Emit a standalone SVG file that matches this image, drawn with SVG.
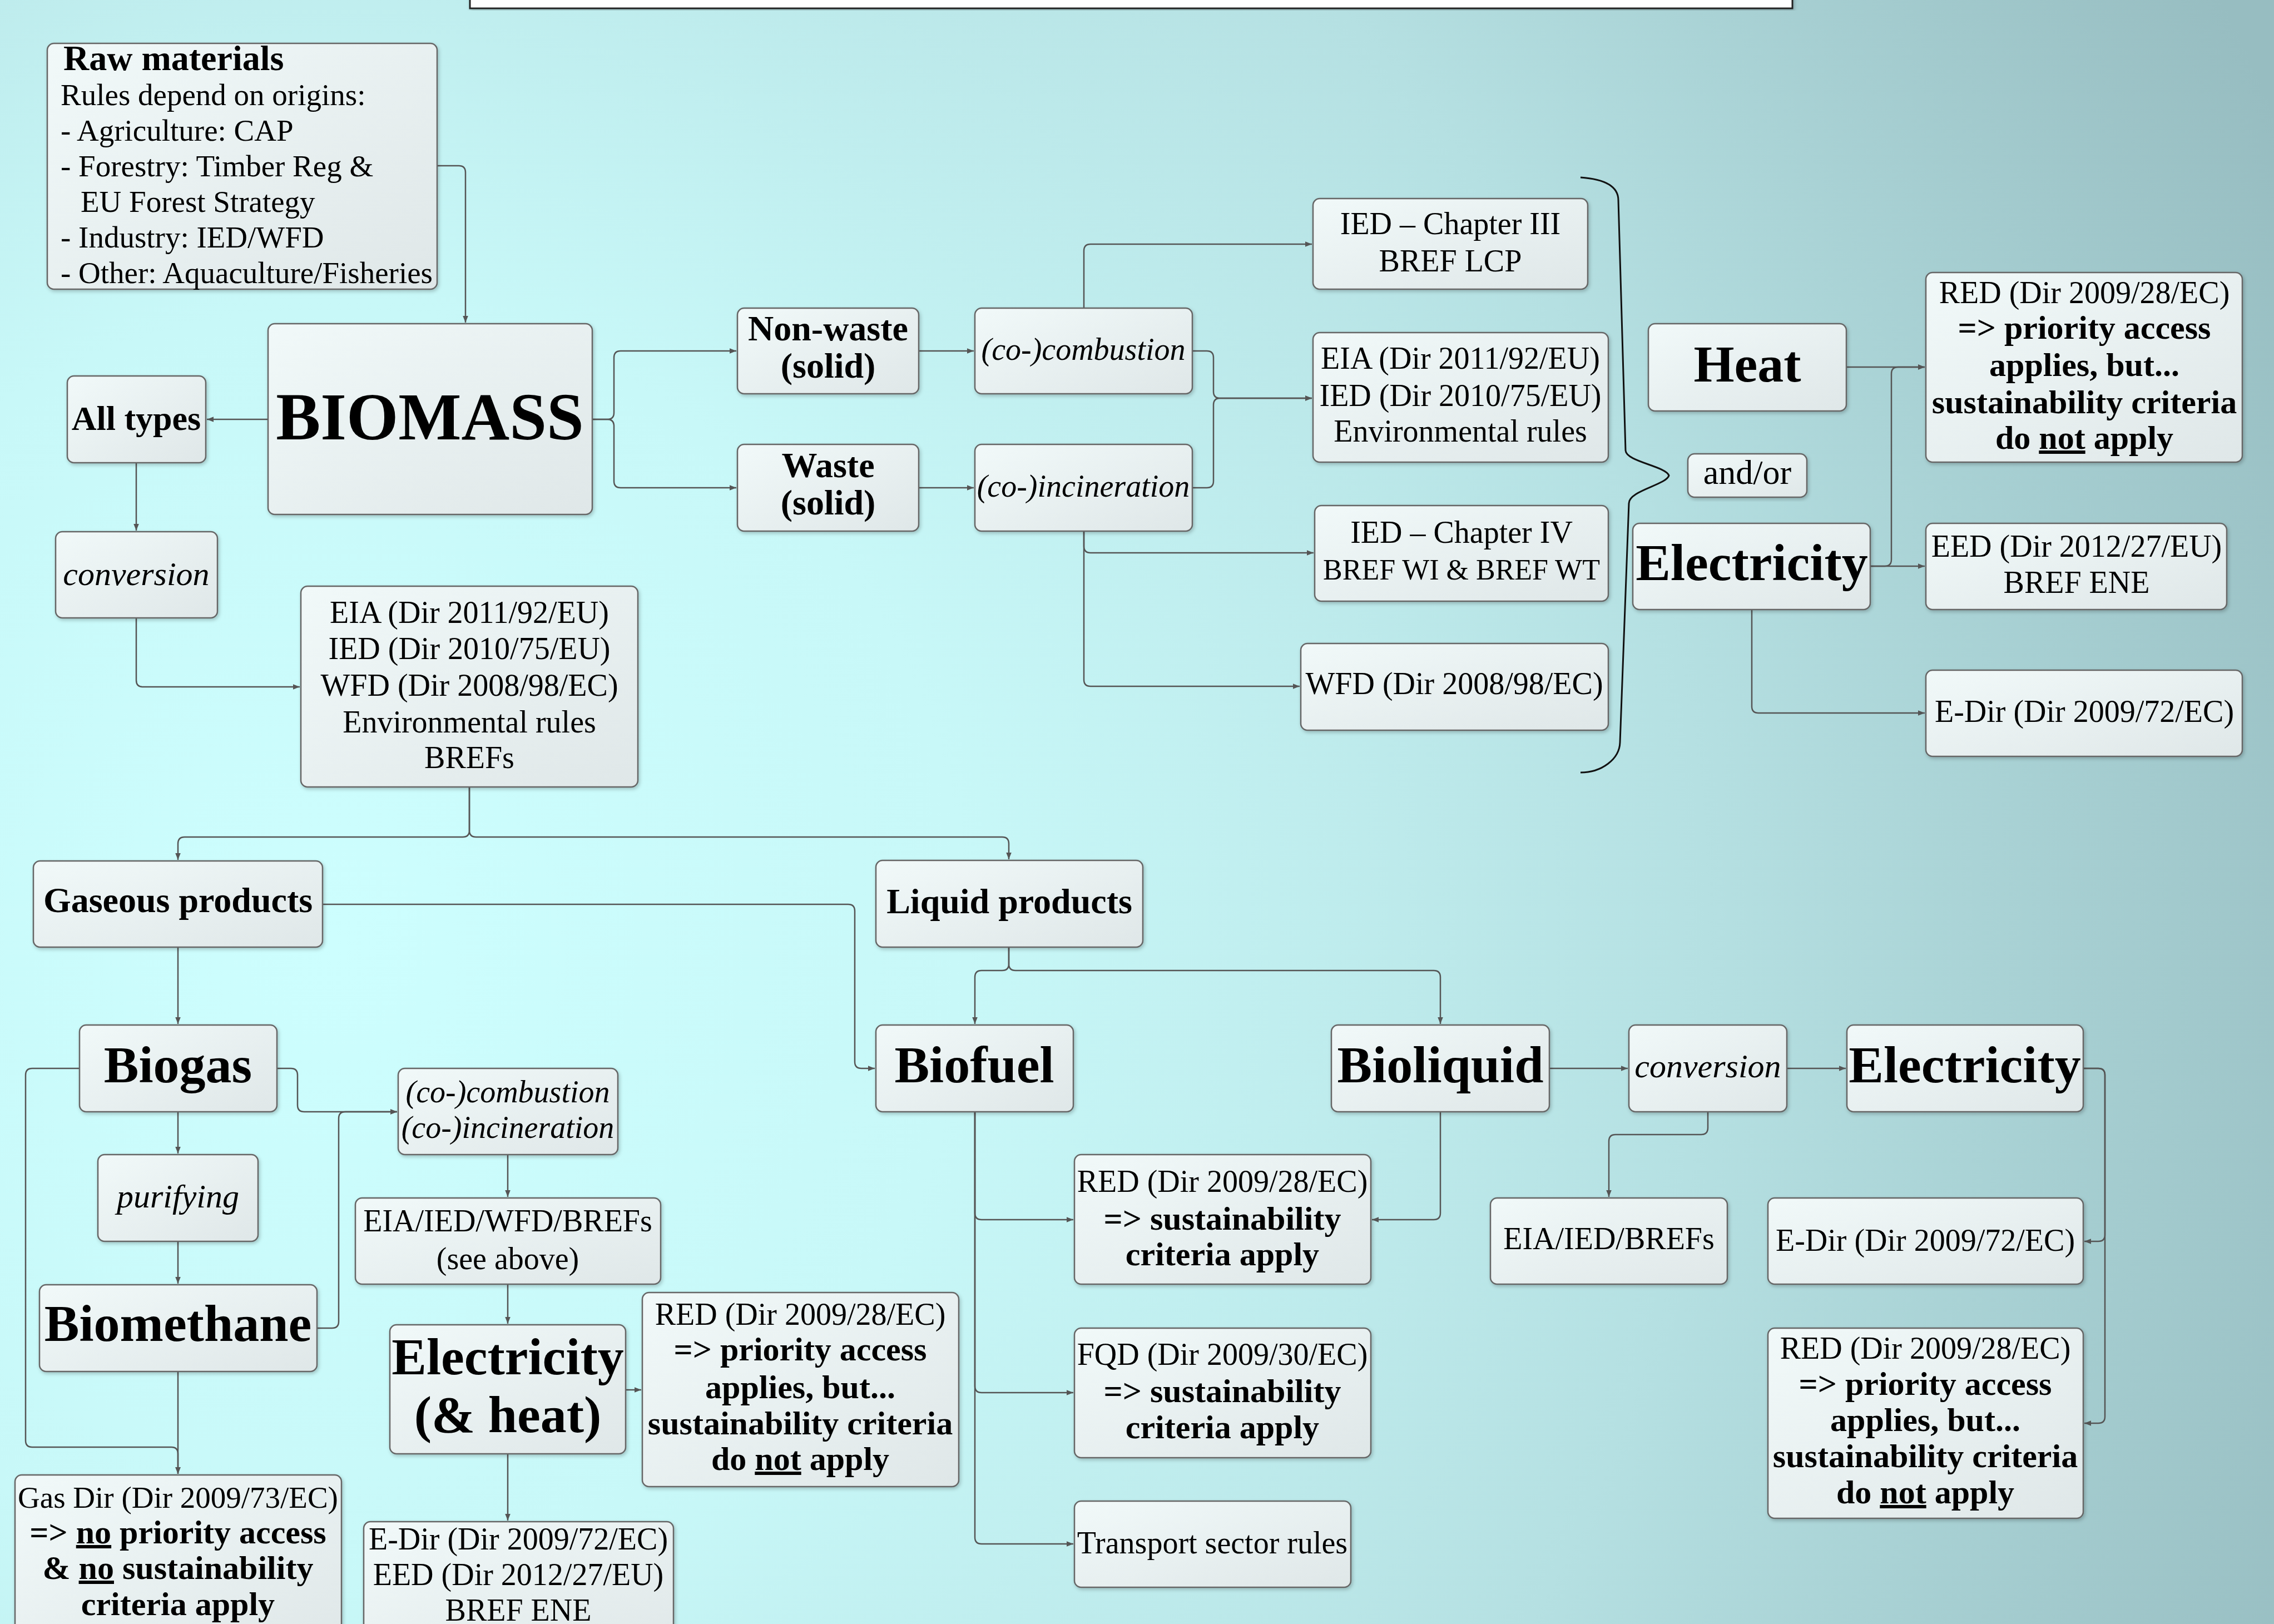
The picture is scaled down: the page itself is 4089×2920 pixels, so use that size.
<svg xmlns="http://www.w3.org/2000/svg" width="4089" height="2920" viewBox="0 0 4089 2920">
<defs>
<radialGradient id="bg" gradientUnits="userSpaceOnUse" cx="600" cy="1700" r="3800">
<stop offset="0" stop-color="#cdfefe"/>
<stop offset="0.3" stop-color="#c8f8f8"/>
<stop offset="0.65" stop-color="#b5e0e2"/>
<stop offset="1" stop-color="#97bdc1"/>
</radialGradient>
<linearGradient id="nf" x1="0" y1="0" x2="1" y2="1">
<stop offset="0" stop-color="#f1f9f9"/>
<stop offset="1" stop-color="#dfe7e8"/>
</linearGradient>
<filter id="sh" x="-5%" y="-5%" width="110%" height="115%">
<feDropShadow dx="2" dy="3" stdDeviation="3" flood-color="#000" flood-opacity="0.22"/>
</filter>
<marker id="arr" viewBox="0 0 10 10" refX="10" refY="5" markerWidth="14" markerHeight="12" markerUnits="userSpaceOnUse" orient="auto">
<path d="M0,1 L10,5 L0,9 z" fill="#555"/>
</marker>
<style>
.box{fill:url(#nf);stroke:#666;stroke-width:2.5;filter:url(#sh)}
text{font-family:"Liberation Serif","Times New Roman",serif;fill:#000}
.m{text-anchor:middle}
.r{font-size:56px}
.rs{font-size:55px}
.b{font-size:60px;font-weight:bold}
.h{font-size:64px;font-weight:bold}
.big{font-size:94px;font-weight:bold}
.i{font-size:56px;font-style:italic}
.i2{font-size:60px;font-style:italic}
.u{text-decoration:underline}
.c{stroke:#555;stroke-width:2.5;fill:none;marker-end:url(#arr)}
.brace{stroke:#111;stroke-width:3;fill:none}
</style>
</defs>
<rect x="0" y="0" width="4089" height="2920" fill="url(#bg)"/>
<g id="banner">
<rect x="845" y="-20" width="2378" height="35" fill="#fff" stroke="#222" stroke-width="3" filter="url(#sh)"/>
</g>

<g id="connectors">
<path class="c" d="M786,298 H825 Q837,298 837,310 V580"/>
<path class="c" d="M482,754 H372"/>
<path class="c" d="M245,832 V954"/>
<path class="c" d="M245,1111 V1223 Q245,1235 257,1235 H539"/>
<path class="c" d="M1065,754 H1092 Q1104,754 1104,742 V643 Q1104,631 1116,631 H1324"/>
<path class="c" d="M1065,754 H1092 Q1104,754 1104,766 V865 Q1104,877 1116,877 H1324"/>
<path class="c" d="M1652,631 H1751"/>
<path class="c" d="M1652,877 H1751"/>
<path class="c" d="M1949,554 V451 Q1949,439 1961,439 H2359"/>
<path class="c" d="M2144,631 H2170 Q2182,631 2182,643 V704 Q2182,716 2194,716 H2359"/>
<path class="c" d="M2144,877 H2170 Q2182,877 2182,865 V728 Q2182,716 2194,716 H2359"/>
<path class="c" d="M1949,955 V982 Q1949,994 1961,994 H2362"/>
<path class="c" d="M1949,955 V1222 Q1949,1234 1961,1234 H2337"/>
<path class="c" d="M3320,660 H3461"/>
<path class="c" d="M3363,1018 H3389 Q3401,1018 3401,1006 V672 Q3401,660 3413,660 H3461"/>
<path class="c" d="M3363,1018 H3461"/>
<path class="c" d="M3150,1096 V1270 Q3150,1282 3162,1282 H3461"/>
<path class="c" d="M844,1415 V1493 Q844,1505 832,1505 H332 Q320,1505 320,1517 V1546"/>
<path class="c" d="M844,1415 V1493 Q844,1505 856,1505 H1802 Q1814,1505 1814,1517 V1545"/>
<path class="c" d="M320,1703 V1841"/>
<path class="c" d="M580,1626 H1525 Q1537,1626 1537,1638 V1909 Q1537,1921 1549,1921 H1573"/>
<path class="c" d="M1814,1703 V1733 Q1814,1745 1802,1745 H1765 Q1753,1745 1753,1757 V1841"/>
<path class="c" d="M1814,1703 V1733 Q1814,1745 1826,1745 H2578 Q2590,1745 2590,1757 V1841"/>
<path class="c" d="M1753,1999 V2181 Q1753,2193 1765,2193 H1930"/>
<path class="c" d="M1753,1999 V2492 Q1753,2504 1765,2504 H1930"/>
<path class="c" d="M1753,1999 V2764 Q1753,2776 1765,2776 H1930"/>
<path class="c" d="M2590,1999 V2181 Q2590,2193 2578,2193 H2467"/>
<path class="c" d="M2786,1921 H2927"/>
<path class="c" d="M3213,1921 H3319"/>
<path class="c" d="M3071,1999 V2028 Q3071,2040 3059,2040 H2905 Q2893,2040 2893,2052 V2152"/>
<path class="c" d="M3746,1921 H3773 Q3785,1921 3785,1933 V2220 Q3785,2232 3773,2232 H3748"/>
<path class="c" d="M3746,1921 H3773 Q3785,1921 3785,1933 V2547 Q3785,2559 3773,2559 H3748"/>
<path class="c" d="M320,1999 V2074"/>
<path class="c" d="M320,2232 V2308"/>
<path class="c" d="M320,2466 V2650"/>
<path class="c" d="M143,1921 H58 Q46,1921 46,1933 V2590 Q46,2602 58,2602 H308 Q320,2602 320,2614 V2650"/>
<path class="c" d="M498,1921 H523 Q535,1921 535,1933 V1987 Q535,1999 547,1999 H714"/>
<path class="c" d="M570,2388 H597 Q609,2388 609,2376 V2011 Q609,1999 621,1999 H714"/>
<path class="c" d="M913,2076 V2152"/>
<path class="c" d="M913,2309 V2380"/>
<path class="c" d="M1125,2499 H1153"/>
<path class="c" d="M913,2614 V2734"/>
</g>

<g id="brace">
<path class="brace" d="M2842,319 C2885,322 2910,335 2910,360 L2923,810 C2924,830 2995,838 3001,855 C2996,872 2929,882 2929,905 L2913,1335 C2912,1365 2880,1389 2842,1389"/>
</g>

<g id="n_raw">
<rect class="box" x="85" y="78" width="701" height="442" rx="12"/>
<text class="h" x="114" y="126">Raw materials</text>
<text class="rs" x="109" y="189">Rules depend on origins:</text>
<text class="rs" x="109" y="253">- Agriculture: CAP</text>
<text class="rs" x="109" y="317">- Forestry: Timber Reg &amp;</text>
<text class="rs" x="145" y="381">EU Forest Strategy</text>
<text class="rs" x="109" y="445">- Industry: IED/WFD</text>
<text class="rs" x="109" y="509">- Other: Aquaculture/Fisheries</text>
</g>
<g id="n_biomass">
<rect class="box" x="482" y="582" width="583" height="343" rx="12"/>
<text class="m" x="773" y="790" style="font-size:120px;font-weight:bold">BIOMASS</text>
</g>
<g id="n_alltypes">
<rect class="box" x="121" y="676" width="249" height="156" rx="12"/>
<text class="m h" x="245" y="773" style="font-size:62px">All types</text>
</g>
<g id="n_conv1">
<rect class="box" x="100" y="956" width="291" height="155" rx="12"/>
<text class="m i2" x="245" y="1052">conversion</text>
</g>
<g id="n_eia1">
<rect class="box" x="541" y="1054" width="606" height="361" rx="12"/>
<text class="m r" x="844" y="1120">EIA (Dir 2011/92/EU)</text>
<text class="m r" x="844" y="1185">IED (Dir 2010/75/EU)</text>
<text class="m r" x="844" y="1251">WFD (Dir 2008/98/EC)</text>
<text class="m r" x="844" y="1317">Environmental rules</text>
<text class="m r" x="844" y="1381">BREFs</text>
</g>
<g id="n_nonwaste">
<rect class="box" x="1326" y="554" width="326" height="154" rx="12"/>
<text class="m h" x="1489" y="612">Non-waste</text>
<text class="m h" x="1489" y="679">(solid)</text>
</g>
<g id="n_waste">
<rect class="box" x="1326" y="799" width="326" height="156" rx="12"/>
<text class="m h" x="1489" y="858">Waste</text>
<text class="m h" x="1489" y="925">(solid)</text>
</g>
<g id="n_comb">
<rect class="box" x="1753" y="554" width="391" height="154" rx="12"/>
<text class="m i" x="1948" y="647">(co-)combustion</text>
</g>
<g id="n_incin">
<rect class="box" x="1753" y="799" width="391" height="156" rx="12"/>
<text class="m i" x="1948" y="893">(co-)incineration</text>
</g>
<g id="n_ied3">
<rect class="box" x="2361" y="357" width="494" height="163" rx="12"/>
<text class="m r" x="2608" y="421">IED – Chapter III</text>
<text class="m r" x="2608" y="488">BREF LCP</text>
</g>
<g id="n_eia2">
<rect class="box" x="2361" y="598" width="531" height="233" rx="12"/>
<text class="m r" x="2626" y="663">EIA (Dir 2011/92/EU)</text>
<text class="m r" x="2626" y="730">IED (Dir 2010/75/EU)</text>
<text class="m r" x="2626" y="794">Environmental rules</text>
</g>
<g id="n_ied4">
<rect class="box" x="2364" y="909" width="528" height="172" rx="12"/>
<text class="m r" x="2628" y="976">IED – Chapter IV</text>
<text class="m" x="2628" y="1042" style="font-size:52px">BREF WI &amp; BREF WT</text>
</g>
<g id="n_wfd">
<rect class="box" x="2339" y="1157" width="553" height="156" rx="12"/>
<text class="m r" x="2615" y="1248">WFD (Dir 2008/98/EC)</text>
</g>
<g id="n_heat">
<rect class="box" x="2964" y="582" width="356" height="157" rx="12"/>
<text class="m big" x="3142" y="686">Heat</text>
</g>
<g id="n_andor">
<rect class="box" x="3035" y="816" width="214" height="78" rx="12"/>
<text class="m" x="3142" y="870" style="font-size:62px">and/or</text>
</g>
<g id="n_elec1">
<rect class="box" x="2936" y="941" width="427" height="155" rx="12"/>
<text class="m big" x="3150" y="1043">Electricity</text>
</g>
<g id="n_red1">
<rect class="box" x="3463" y="490" width="569" height="341" rx="12"/>
<text class="m r" x="3748" y="545">RED (Dir 2009/28/EC)</text>
<text class="m b" x="3748" y="609">=&gt; priority access</text>
<text class="m b" x="3748" y="676">applies, but...</text>
<text class="m b" x="3748" y="743">sustainability criteria</text>
<text class="m b" x="3748" y="807">do <tspan class="u">not</tspan> apply</text>
</g>
<g id="n_eed1">
<rect class="box" x="3463" y="941" width="541" height="155" rx="12"/>
<text class="m r" x="3734" y="1001">EED (Dir 2012/27/EU)</text>
<text class="m r" x="3734" y="1066">BREF ENE</text>
</g>
<g id="n_edir1">
<rect class="box" x="3463" y="1205" width="569" height="155" rx="12"/>
<text class="m r" x="3748" y="1298">E-Dir (Dir 2009/72/EC)</text>
</g>
<g id="n_gas">
<rect class="box" x="60" y="1548" width="520" height="155" rx="12"/>
<text class="m h" x="320" y="1640">Gaseous products</text>
</g>
<g id="n_liq">
<rect class="box" x="1575" y="1547" width="480" height="156" rx="12"/>
<text class="m h" x="1815" y="1642">Liquid products</text>
</g>
<g id="n_biogas">
<rect class="box" x="143" y="1843" width="355" height="156" rx="12"/>
<text class="m big" x="320" y="1946">Biogas</text>
</g>
<g id="n_purif">
<rect class="box" x="176" y="2076" width="288" height="156" rx="12"/>
<text class="m i2" x="320" y="2171">purifying</text>
</g>
<g id="n_biometh">
<rect class="box" x="71" y="2310" width="499" height="156" rx="12"/>
<text class="m big" x="320" y="2411">Biomethane</text>
</g>
<g id="n_gasdir">
<rect class="box" x="27" y="2652" width="587" height="320" rx="12"/>
<text class="m" x="320" y="2711" style="font-size:55px">Gas Dir (Dir 2009/73/EC)</text>
<text class="m b" x="320" y="2775">=&gt; <tspan class="u">no</tspan> priority access</text>
<text class="m b" x="320" y="2839">&amp; <tspan class="u">no</tspan> sustainability</text>
<text class="m b" x="320" y="2904">criteria apply</text>
</g>
<g id="n_comb2">
<rect class="box" x="716" y="1921" width="395" height="155" rx="12"/>
<text class="m i" x="913" y="1982">(co-)combustion</text>
<text class="m i" x="913" y="2046">(co-)incineration</text>
</g>
<g id="n_eia3">
<rect class="box" x="639" y="2154" width="549" height="155" rx="12"/>
<text class="m r" x="913" y="2214">EIA/IED/WFD/BREFs</text>
<text class="m r" x="913" y="2282">(see above)</text>
</g>
<g id="n_elecheat">
<rect class="box" x="701" y="2382" width="424" height="232" rx="12"/>
<text class="m big" x="913" y="2471">Electricity</text>
<text class="m big" x="913" y="2575">(&amp; heat)</text>
</g>
<g id="n_red2">
<rect class="box" x="1155" y="2324" width="569" height="349" rx="12"/>
<text class="m r" x="1439" y="2382">RED (Dir 2009/28/EC)</text>
<text class="m b" x="1439" y="2446">=&gt; priority access</text>
<text class="m b" x="1439" y="2514">applies, but...</text>
<text class="m b" x="1439" y="2579">sustainability criteria</text>
<text class="m b" x="1439" y="2643">do <tspan class="u">not</tspan> apply</text>
</g>
<g id="n_edir2">
<rect class="box" x="654" y="2736" width="557" height="250" rx="12"/>
<text class="m r" x="932" y="2786">E-Dir (Dir 2009/72/EC)</text>
<text class="m r" x="932" y="2850">EED (Dir 2012/27/EU)</text>
<text class="m r" x="932" y="2914">BREF ENE</text>
</g>
<g id="n_biofuel">
<rect class="box" x="1575" y="1843" width="355" height="156" rx="12"/>
<text class="m big" x="1752" y="1946">Biofuel</text>
</g>
<g id="n_bioliq">
<rect class="box" x="2394" y="1843" width="392" height="156" rx="12"/>
<text class="m big" x="2590" y="1946">Bioliquid</text>
</g>
<g id="n_conv2">
<rect class="box" x="2929" y="1843" width="284" height="156" rx="12"/>
<text class="m i2" x="3071" y="1937">conversion</text>
</g>
<g id="n_elec2">
<rect class="box" x="3321" y="1843" width="425" height="156" rx="12"/>
<text class="m big" x="3533" y="1946">Electricity</text>
</g>
<g id="n_red3">
<rect class="box" x="1932" y="2076" width="533" height="233" rx="12"/>
<text class="m r" x="2198" y="2143">RED (Dir 2009/28/EC)</text>
<text class="m b" x="2198" y="2211">=&gt; sustainability</text>
<text class="m b" x="2198" y="2275">criteria apply</text>
</g>
<g id="n_fqd">
<rect class="box" x="1932" y="2388" width="533" height="233" rx="12"/>
<text class="m r" x="2198" y="2454">FQD (Dir 2009/30/EC)</text>
<text class="m b" x="2198" y="2521">=&gt; sustainability</text>
<text class="m b" x="2198" y="2586">criteria apply</text>
</g>
<g id="n_transport">
<rect class="box" x="1932" y="2699" width="497" height="155" rx="12"/>
<text class="m r" x="2180" y="2793">Transport sector rules</text>
</g>
<g id="n_eia4">
<rect class="box" x="2680" y="2154" width="426" height="155" rx="12"/>
<text class="m r" x="2893" y="2246">EIA/IED/BREFs</text>
</g>
<g id="n_edir3">
<rect class="box" x="3179" y="2154" width="567" height="155" rx="12"/>
<text class="m r" x="3462" y="2249">E-Dir (Dir 2009/72/EC)</text>
</g>
<g id="n_red4">
<rect class="box" x="3179" y="2388" width="567" height="342" rx="12"/>
<text class="m r" x="3462" y="2443">RED (Dir 2009/28/EC)</text>
<text class="m b" x="3462" y="2508">=&gt; priority access</text>
<text class="m b" x="3462" y="2573">applies, but...</text>
<text class="m b" x="3462" y="2638">sustainability criteria</text>
<text class="m b" x="3462" y="2703">do <tspan class="u">not</tspan> apply</text>
</g>
</svg>
